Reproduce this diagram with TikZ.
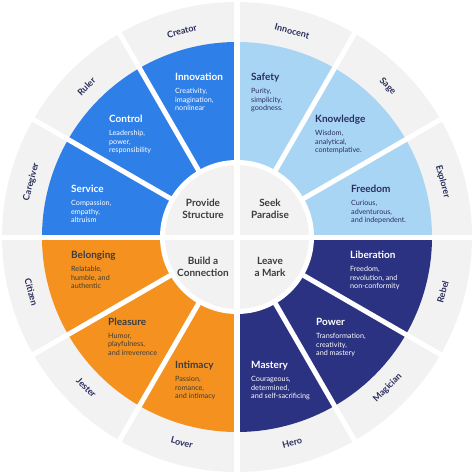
\documentclass[tikz,border=0pt]{standalone}
\usepackage{fontspec}
\setmainfont{Lato}
\usepackage{tikz}
\usetikzlibrary{positioning}
\definecolor{whblue}{HTML}{2E80E8}
\definecolor{whlight}{HTML}{A9D5F5}
\definecolor{whorange}{HTML}{F5921F}
\definecolor{whnavy}{HTML}{2C3282}
\definecolor{whgrey}{HTML}{F2F2F2}
\definecolor{whlabel}{HTML}{2A2E5C}
\definecolor{whdark}{HTML}{3C3C3C}

\begin{document}
\begin{tikzpicture}[x=1pt, y=1pt,
  ttl/.style={font=\fontsize{10}{11}\selectfont\bfseries, anchor=west,
              inner sep=0pt, text height=7pt, text depth=0pt},
  desc/.style={font=\fontsize{7.2}{8.6}\selectfont, align=left,
               anchor=north west, inner sep=0pt},
  arch/.style={font=\fontsize{9}{10}\selectfont\bfseries, text=whlabel},
  goal/.style={font=\fontsize{10}{12}\selectfont\bfseries, text=whdark,
               align=center},
  gap/.style={draw=white, line width=5pt}
]
  \useasboundingbox (-237,-237) rectangle (237,237);

  %% Outer ring and centre disc
  \fill[whgrey] (0,0) circle[radius=235];
  %% Coloured sectors
  \foreach \a/\col in {0/whlight, 30/whlight, 60/whlight,
                       90/whblue, 120/whblue, 150/whblue,
                       180/whorange, 210/whorange, 240/whorange,
                       270/whnavy, 300/whnavy, 330/whnavy}{
    \fill[\col] (\a:76) arc[start angle=\a, end angle=\a+30, radius=76]
      -- (\a+30:195) arc[start angle=\a+30, end angle=\a, radius=195] -- cycle;
  }
  %% White gaps
  \draw[gap] (0,0) circle[radius=74.5];
  \foreach \a in {30,60,120,150,210,240,300,330}{
    \draw[gap] (\a:74) -- (\a:237);
  }
  \foreach \a in {0,90,180,270}{
    \draw[gap] (0,0) -- (\a:237);
  }

  %% Outer archetype labels
  \foreach \ang/\lbl/\rot in {15/Explorer/-75, 45/Sage/-45, 75/Innocent/-15,
                              105/Creator/15, 135/Ruler/45, 165/Caregiver/75,
                              195/Citizen/-75, 225/Jester/-45, 255/Lover/-15,
                              285/Hero/15, 315/Magician/45, 345/Rebel/75}{
    \node[arch, rotate=\rot] (arch\ang) at (\ang:213) {\lbl};
  }

  %% Centre goals
  \node[goal] (struct)   at (-34,28)  {Provide\\Structure};
  \node[goal] (paradise) at (33,28)   {Seek\\Paradise};
  \node[goal] (connect)  at (-34,-30) {Build a\\Connection};
  \node[goal] (mark)     at (33,-30)  {Leave\\a Mark};

  %% Blue quadrant
  \node[ttl, text=white] (innov) at (-62,160) {Innovation};
  \node[desc, text=white] (innovd) at ([yshift=-7.5pt]innov.base west) {Creativity,\\imagination,\\nonlinear};
  \node[ttl, text=white] (control) at (-128,118) {Control};
  \node[desc, text=white] (controld) at ([yshift=-7.5pt]control.base west) {Leadership,\\power,\\responsibility};
  \node[ttl, text=white] (service) at (-166,48) {Service};
  \node[desc, text=white] (serviced) at ([yshift=-7.5pt]service.base west) {Compassion,\\empathy,\\altruism};

  %% Light blue quadrant
  \node[ttl, text=whlabel] (safety) at (14,160) {Safety};
  \node[desc, text=whlabel] (safetyd) at ([yshift=-7.5pt]safety.base west) {Purity,\\simplicity,\\goodness.};
  \node[ttl, text=whlabel] (knowl) at (78,118) {Knowledge};
  \node[desc, text=whlabel] (knowld) at ([yshift=-7.5pt]knowl.base west) {Wisdom,\\analytical,\\contemplative.};
  \node[ttl, text=whlabel] (freedom) at (114,48) {Freedom};
  \node[desc, text=whlabel] (freedomd) at ([yshift=-7.5pt]freedom.base west) {Curious,\\adventurous,\\and independent.};

  %% Orange quadrant
  \node[ttl, text=whdark] (belong) at (-166,-18) {Belonging};
  \node[desc, text=whdark] (belongd) at ([yshift=-7.5pt]belong.base west) {Relatable,\\humble, and\\authentic};
  \node[ttl, text=whdark] (pleasure) at (-129,-85) {Pleasure};
  \node[desc, text=whdark] (pleasured) at ([yshift=-7.5pt]pleasure.base west) {Humor,\\playfulness,\\and irreverence};
  \node[ttl, text=whdark] (intim) at (-62,-128) {Intimacy};
  \node[desc, text=whdark] (intimd) at ([yshift=-7.5pt]intim.base west) {Passion,\\romance,\\and intimacy};

  %% Navy quadrant
  \node[ttl, text=white] (liber) at (113,-18) {Liberation};
  \node[desc, text=white] (liberd) at ([yshift=-7.5pt]liber.base west) {Freedom,\\revolution, and\\non-conformity};
  \node[ttl, text=white] (power) at (79,-85) {Power};
  \node[desc, text=white] (powerd) at ([yshift=-7.5pt]power.base west) {Transformation,\\creativity,\\and mastery};
  \node[ttl, text=white] (mastery) at (14,-128) {Mastery};
  \node[desc, text=white] (masteryd) at ([yshift=-7.5pt]mastery.base west) {Courageous,\\determined,\\and self-sacrificing};
\end{tikzpicture}
\end{document}
